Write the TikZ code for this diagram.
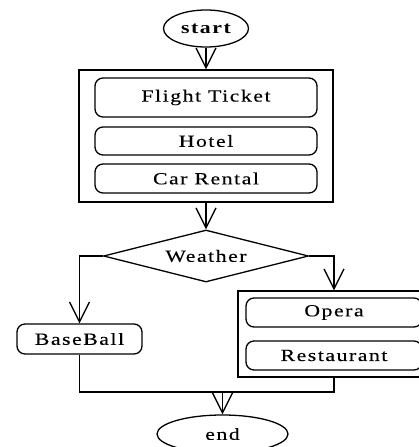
\documentclass[tikz,border=0pt]{standalone}
\usepackage{fontspec}
\usetikzlibrary{shapes.geometric,arrows.meta}
\newfontfamily\lab[FakeStretch=1.28,LetterSpace=9,FakeBold=0.25]{Liberation Serif}
\newfontfamily\labb[FakeStretch=1.28,LetterSpace=9]{Liberation Serif Bold}
\begin{document}
\begin{tikzpicture}[x=1pt,y=-1pt,
  line width=1.3pt,
  font=\lab\fontsize{17}{20}\selectfont,
  box/.style={draw,rectangle,inner sep=0pt},
  rbox/.style={draw,rectangle,rounded corners=8pt,inner sep=0pt},
  term/.style={draw,ellipse,inner sep=0pt},
  arr/.style={-{Straight Barb[length=20pt,width=20pt]}}]
\useasboundingbox (0,0) rectangle (419,447);
\clip (0,0) rectangle (419,447);
\node[term,minimum width=85pt,minimum height=37pt,font=\labb\fontsize{17}{20}\selectfont] (start) at (206,28.5) {start};
\node[box,minimum width=254pt,minimum height=132pt] (outer) at (206,136) {};
\node[rbox,minimum width=222pt,minimum height=39pt] (ft) at (206,97.5) {Flight Ticket};
\node[rbox,minimum width=222pt,minimum height=28pt] (ho) at (206,141) {Hotel};
\node[rbox,minimum width=222pt,minimum height=29pt] (cr) at (206,178.5) {Car Rental};
\node[draw,diamond,aspect=3.9,minimum width=205pt,minimum height=52pt,inner sep=0pt] (wx) at (206,256) {Weather};
\node[rbox,minimum width=125pt,minimum height=30pt] (bb) at (79.5,339) {BaseBall};
\node[box,minimum width=192pt,minimum height=86pt] (rb) at (334,334) {};
\node[rbox,minimum width=176pt,minimum height=29pt] (op) at (334,312.5) {Opera};
\node[rbox,minimum width=176pt,minimum height=29pt] (rs) at (334,355.5) {Restaurant};
\node[term,minimum width=131pt,minimum height=38pt] (end) at (222.5,434) {end};
\coordinate (m) at (222.5,392);
\draw[arr] (start) -- (outer);
\draw[arr] (outer) -- (wx);
\draw[arr] (wx.west) -| (bb.north);
\draw[arr] (wx.east) -| (rb.north);
\draw (bb.south) |- (m) -| (rb.south);
\draw[arr] (m) -- (end);
\end{tikzpicture}
\end{document}
